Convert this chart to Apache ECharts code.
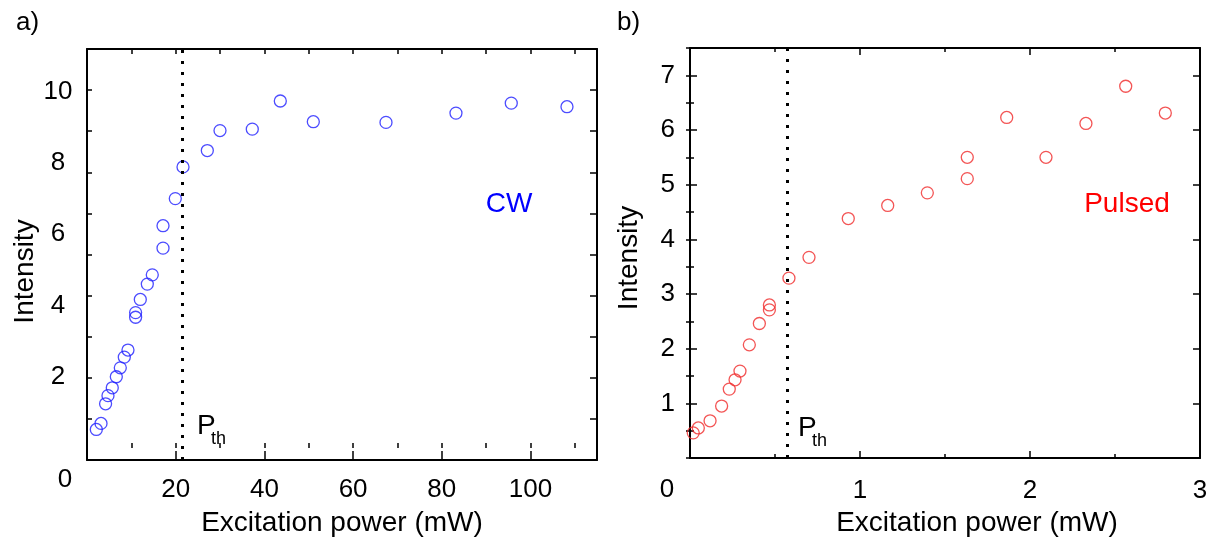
<!DOCTYPE html>
<html>
<head>
<meta charset="utf-8">
<script src="https://cdn.jsdelivr.net/npm/echarts@6/dist/echarts.min.js"></script>
<style>html,body{margin:0;padding:0;background:#fff;}#chart{width:1213px;height:547px;}</style>
</head>
<body>
<div id="chart"></div>
<script>
// ---- data ----
const CW_POWER = [2.1, 3.16, 4.19, 4.73, 5.70, 6.61, 7.51, 8.41, 9.24, 10.96, 10.96, 12.02, 13.6, 14.72, 17.14, 17.14, 19.91, 21.65, 27.13, 29.99, 37.27, 43.59, 51.03, 67.42, 83.2, 95.67, 108.23];
const CW_INTENSITY = [0.52, 0.69, 1.24, 1.47, 1.69, 2.00, 2.25, 2.55, 2.75, 3.67, 3.80, 4.17, 4.60, 4.86, 5.61, 6.24, 7.00, 7.89, 8.35, 8.91, 8.95, 9.74, 9.16, 9.14, 9.40, 9.68, 9.58];
const PULSED_POWER = [0.019, 0.049, 0.118, 0.186, 0.231, 0.265, 0.294, 0.349, 0.408, 0.467, 0.467, 0.582, 0.70, 0.931, 1.163, 1.396, 1.631, 1.631, 1.863, 2.094, 2.329, 2.563, 2.796];
const PULSED_INTENSITY = [0.46, 0.55, 0.68, 0.95, 1.26, 1.43, 1.59, 2.07, 2.46, 2.80, 2.71, 3.29, 3.67, 4.38, 4.62, 4.85, 5.50, 5.11, 6.23, 5.50, 6.12, 6.80, 6.31];
const P_TH_CW = 21.4;
const P_TH_PULSED = 0.57;

// tick labels
const CW_X_LABELS = [20, 40, 60, 80, 100];
const CW_Y_LABELS = [2, 4, 6, 8, 10];
const PULSED_X_LABELS = [1, 2, 3];
const PULSED_Y_LABELS = [1, 2, 3, 4, 5, 6, 7];
const CORNER_LABEL = '0';
const PANEL_LABELS = ['a)', 'b)'];
const SERIES_NAMES = ['CW', 'Pulsed'];
const X_TITLE = 'Excitation power (mW)';
const Y_TITLE = 'Intensity';
const TH_MAIN = 'P';
const TH_SUB = 'th';

// ---- style ----
const FONT = "'Liberation Sans', Arial, Helvetica, sans-serif";
const BLUE = '#1f1fff';
const RED = '#f02a2a';
const pick = (labels) => (v) => labels.some(l => Math.abs(l - v) < 1e-6) ? String(v) : '';
const lineStyle = { color: '#000', width: 2 };

const chart = echarts.init(document.getElementById('chart'), null, { renderer: 'canvas' });

function tickAxis(base) {
  return Object.assign({
    type: 'value',
    axisLine: { show: false },
    axisLabel: { show: false },
    splitLine: { show: false },
    axisTick: { show: true, inside: true, length: 5, lineStyle: { color: '#000', width: 1.5 } }
  }, base);
}

const option = {
  backgroundColor: '#fff',
  animation: false,
  textStyle: { fontFamily: FONT },
  grid: [
    { left: 87, top: 49, width: 510, height: 411 },
    { left: 690, top: 48, width: 510, height: 410 }
  ],
  xAxis: [
    // 0: CW bottom, major ticks + labels
    {
      type: 'value', gridIndex: 0, position: 'bottom', min: 0, max: 115, interval: 20,
      axisLine: { show: true, onZero: false, lineStyle },
      axisTick: { show: true, inside: true, length: 9, lineStyle: { color: '#000', width: 1.5 } },
      axisLabel: { show: true, margin: 17, fontSize: 26, color: '#000', fontFamily: FONT, formatter: pick(CW_X_LABELS), showMaxLabel: false, showMinLabel: false },
      splitLine: { show: false },
      name: X_TITLE, nameLocation: 'middle', nameGap: 49,
      nameTextStyle: { fontSize: 28, color: '#000', fontFamily: FONT }
    },
    // 1: CW bottom minor ticks
    tickAxis({ gridIndex: 0, position: 'bottom', min: 0, max: 115, interval: 10 }),
    // 2: CW top ticks
    Object.assign(tickAxis({ gridIndex: 0, position: 'top', min: 0, max: 115, interval: 10 }), { axisLine: { show: true, onZero: false, lineStyle } }),
    // 3: Pulsed bottom
    {
      type: 'value', gridIndex: 1, position: 'bottom', min: 0, max: 3, interval: 1,
      axisLine: { show: true, onZero: false, lineStyle },
      axisTick: { show: true, inside: true, length: 7, lineStyle: { color: '#000', width: 1.5 } },
      minorTick: { show: true, splitNumber: 2, length: 4, lineStyle: { color: '#000', width: 1.5 } },
      axisLabel: { show: true, margin: 20, fontSize: 26, color: '#000', fontFamily: FONT, formatter: pick(PULSED_X_LABELS) },
      splitLine: { show: false },
      name: X_TITLE, nameLocation: 'middle', nameGap: 51,
      nameTextStyle: { fontSize: 28, color: '#000', fontFamily: FONT, padding: [0, 0, 0, 64] }
    },
    // 4: Pulsed top
    {
      type: 'value', gridIndex: 1, position: 'top', min: 0, max: 3, interval: 1,
      axisLine: { show: true, onZero: false, lineStyle },
      axisTick: { show: true, inside: true, length: 7, lineStyle: { color: '#000', width: 1.5 } },
      minorTick: { show: true, splitNumber: 2, length: 4, lineStyle: { color: '#000', width: 1.5 } },
      axisLabel: { show: false }, splitLine: { show: false }
    }
  ],
  yAxis: [
    // 0: CW data axis (labels)
    {
      type: 'value', gridIndex: 0, position: 'left', min: -0.337, max: 11.2,
      axisLine: { show: true, onZero: false, lineStyle },
      axisTick: { show: false },
      axisLabel: { show: true, margin: 29, align: 'center', fontSize: 26, color: '#000', fontFamily: FONT, formatter: pick(CW_Y_LABELS), showMinLabel: false, showMaxLabel: false },
      splitLine: { show: false },
      name: Y_TITLE, nameLocation: 'middle', nameGap: 48,
      nameTextStyle: { fontSize: 28, color: '#000', fontFamily: FONT, padding: [0, 34, 0, 0] }
    },
    // 1: CW left ticks
    tickAxis({ gridIndex: 0, position: 'left', min: 0, max: 10, interval: 1 }),
    // 2: CW right ticks + frame
    Object.assign(tickAxis({ gridIndex: 0, position: 'right', min: 0, max: 10, interval: 1 }),
      { axisLine: { show: true, onZero: false, lineStyle }, axisTick: { show: true, inside: true, length: 7, lineStyle: { color: '#000', width: 1.5 } } }),
    // 3: Pulsed left (labels + major ticks)
    {
      type: 'value', gridIndex: 1, position: 'left', min: 0, max: 7.5, interval: 1,
      axisLine: { show: true, onZero: false, lineStyle },
      axisTick: { show: true, inside: true, length: 7, lineStyle: { color: '#000', width: 1.5 } },
      axisLabel: { show: true, margin: 15, fontSize: 26, color: '#000', fontFamily: FONT, formatter: pick(PULSED_Y_LABELS) },
      splitLine: { show: false },
      name: Y_TITLE, nameLocation: 'middle', nameGap: 47,
      nameTextStyle: { fontSize: 28, color: '#000', fontFamily: FONT, padding: [0, 10, 0, 0] }
    },
    // 4: Pulsed left minor ticks
    tickAxis({ gridIndex: 1, position: 'left', min: 0, max: 7.5, interval: 0.5, axisTick: { show: true, inside: true, length: 4, lineStyle: { color: '#000', width: 1.5 } } }),
    // 5: Pulsed right major
    Object.assign(tickAxis({ gridIndex: 1, position: 'right', min: 0, max: 7.5, interval: 1 }),
      { axisLine: { show: true, onZero: false, lineStyle }, axisTick: { show: true, inside: true, length: 7, lineStyle: { color: '#000', width: 1.5 } } }),
    // 6: Pulsed right minor
    tickAxis({ gridIndex: 1, position: 'right', min: 0, max: 7.5, interval: 0.5, axisTick: { show: true, inside: true, length: 4, lineStyle: { color: '#000', width: 1.5 } } })
  ],
  series: [
    {
      name: SERIES_NAMES[0], type: 'scatter', xAxisIndex: 0, yAxisIndex: 0,
      data: CW_POWER.map((x, i) => [x, CW_INTENSITY[i]]),
      symbol: 'circle', symbolSize: 12,
      itemStyle: { color: 'transparent', borderColor: BLUE, borderWidth: 1.3 },
      markLine: {
        silent: true, symbol: 'none', label: { show: false },
        lineStyle: { color: '#000', type: [3, 8], width: 3, cap: 'butt' },
        data: [{ xAxis: P_TH_CW }]
      }
    },
    {
      name: SERIES_NAMES[1], type: 'scatter', xAxisIndex: 3, yAxisIndex: 3,
      data: PULSED_POWER.map((x, i) => [x, PULSED_INTENSITY[i]]),
      symbol: 'circle', symbolSize: 12,
      itemStyle: { color: 'transparent', borderColor: RED, borderWidth: 1.3 },
      markLine: {
        silent: true, symbol: 'none', label: { show: false },
        lineStyle: { color: '#000', type: [3, 8], width: 3, cap: 'butt' },
        data: [{ xAxis: P_TH_PULSED }]
      }
    }
  ]
};
chart.setOption(option);

// annotation text positioned from the axes
const thCW = chart.convertToPixel({ xAxisIndex: 0, yAxisIndex: 0 }, [P_TH_CW, 0]);
const thP = chart.convertToPixel({ xAxisIndex: 3, yAxisIndex: 3 }, [P_TH_PULSED, 0]);
const txt = (x, y, text, size, color, align) => ({
  type: 'text', x, y, silent: true,
  style: { text, fontSize: size, fill: color, fontFamily: FONT, align: align || 'left', verticalAlign: 'middle' }
});
chart.setOption({
  graphic: [
    txt(16, 23, PANEL_LABELS[0], 26, '#000'),
    txt(617, 23, PANEL_LABELS[1], 26, '#000'),
    txt(65, 480, CORNER_LABEL, 26, '#000', 'center'),
    txt(667, 490, CORNER_LABEL, 26, '#000', 'center'),
    txt(509, 204, SERIES_NAMES[0], 28, '#0000ff', 'center'),
    txt(1127, 204, SERIES_NAMES[1], 28, '#ff0000', 'center'),
    txt(thCW[0] + 15, 426, TH_MAIN, 28, '#000'),
    txt(thCW[0] + 29, 439, TH_SUB, 18, '#000'),
    txt(thP[0] + 11, 428, TH_MAIN, 28, '#000'),
    txt(thP[0] + 25, 441, TH_SUB, 18, '#000')
  ]
});
</script>
</body>
</html>
